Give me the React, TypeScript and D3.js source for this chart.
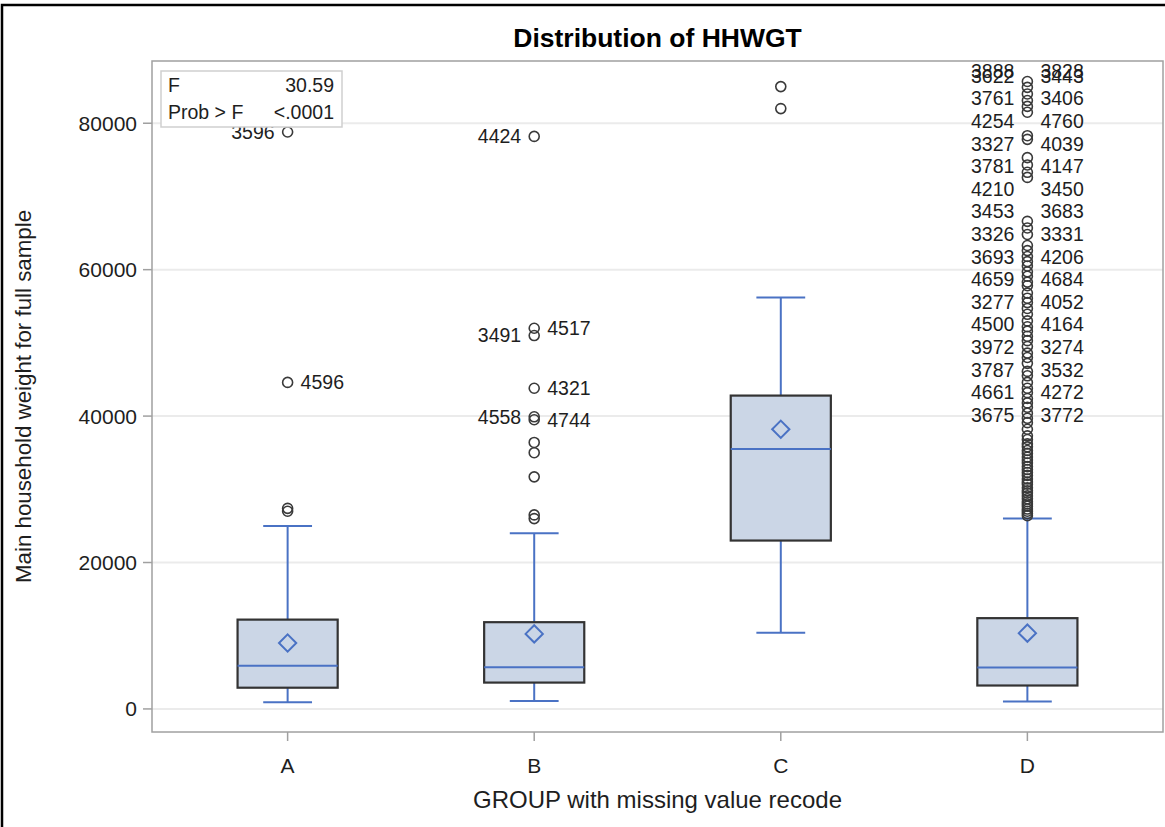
import React from 'react';
import * as d3 from 'd3';

// box statistics per group
const groups = ['A', 'B', 'C', 'D'];
const q1 = [2900, 3600, 23000, 3200];
const medians = [5900, 5700, 35500, 5650];
const q3 = [12200, 11850, 42800, 12400];
const means = [9000, 10250, 38200, 10350];
const whiskerLow = [900, 1100, 10400, 1000];
const whiskerHigh = [25000, 24000, 56200, 26000];

const outliersA = [78800, 44600, 27400, 27000];
const outliersB = [78200, 52000, 51000, 43800, 39900, 39500, 36400, 35000, 31700, 26500, 26000];
const outliersC = [85000, 82000];
const outliersD = [
  85700, 84900, 84000, 83100, 82300, 81500, 78300, 77800, 75300, 74300, 73300, 72600,
  66600, 65700, 64800, 63300, 62600, 61800, 61100, 60500, 59700, 59100, 58300, 57800,
  56800, 56100, 55500, 54700, 53900, 53000, 52200, 51600, 50900, 50300, 49500, 48600,
  48000, 47200, 46100, 45500, 44600, 43800, 43200, 42400, 41800, 41200, 40400, 39700,
  39100, 38200, 37300, 36800, 36200, 35800, 35300, 34900, 34400, 34000, 33600, 33100,
  32700, 32300, 31900, 31400, 31000, 30700, 30200, 29800, 29500, 29100, 28700, 28300,
  28000, 27700, 27300, 27000, 26700, 26400,
];

// labelled outliers (id, value, side)
const labelIdsA = ['3596', '4596'];
const labelValsA = [78800, 44600];
const labelSideA = ['left', 'right'];
const labelIdsB = ['4424', '4517', '3491', '4321', '4558', '4744'];
const labelValsB = [78200, 52000, 51000, 43800, 39900, 39500];
const labelSideB = ['left', 'right', 'left', 'right', 'left', 'right'];

// group D labels are stacked in two columns from the top; the first row
// is drawn over by labels that did not fit (as in the reference)
const dLabelsLeft = ['3622', '3761', '4254', '3327', '3781', '4210', '3453', '3326', '3693', '4659', '3277', '4500', '3972', '3787', '4661', '3675'];
const dLabelsRight = ['3443', '3406', '4760', '4039', '4147', '3450', '3683', '3331', '4206', '4684', '4052', '4164', '3274', '3532', '4272', '3772'];
const dLabelsHiddenLeft = ['3888'];
const dLabelsHiddenRight = ['3828'];

const yTicks = [0, 20000, 40000, 60000, 80000];

const W = 1165;
const H = 827;
const left = 152;
const right = 1163;
const top = 61;
const bottom = 732;

const font = '"Liberation Sans", Arial, sans-serif';
const boxFill = '#cbd6e6';
const blue = '#4a72c4';
const ink = '#1e1e1e';

export default function App() {
  const x = d3.scalePoint<string>().domain(groups).range([left, right]).padding(0.55);
  const y = d3.scaleLinear().domain([-3150, 88500]).range([bottom, top]);
  const step = x.step();
  const halfBox = step * 0.203;
  const halfCap = step * 0.099;
  const diamond = d3.symbol().type(d3.symbolDiamond2).size(190)();

  const outliers = [outliersA, outliersB, outliersC, outliersD];
  const rowH = 22.6;

  const sideLabel = (g: string, id: string, v: number, side: string, k: string) => (
    <text
      key={k}
      x={side === 'left' ? (x(g) as number) - 13 : (x(g) as number) + 13}
      y={y(v)}
      dy="0.35em"
      textAnchor={side === 'left' ? 'end' : 'start'}
      fontSize={19.5}
      fill={ink}
    >
      {id}
    </text>
  );

  return (
    <svg width={W} height={H} style={{ position: 'absolute', left: 0, top: 0 }} fontFamily={font}>
      <rect width={W} height={H} fill="#fff" />
      <path d={`M2,${H} V5 H${W}`} fill="none" stroke="#000" strokeWidth={2.5} />

      <text x={(left + right) / 2} y={47} textAnchor="middle" fontWeight="bold" fontSize={26.5} fill="#000">
        Distribution of HHWGT
      </text>

      <defs>
        <clipPath id="plot">
          <rect x={left} y={top} width={right - left} height={bottom - top} />
        </clipPath>
      </defs>

      {yTicks.map((t) => (
        <line key={t} x1={left} x2={right} y1={y(t)} y2={y(t)} stroke="#ebebeb" strokeWidth={2} />
      ))}

      <g clipPath="url(#plot)">
        {groups.map((g, i) => {
          const cx = x(g) as number;
          return (
            <g key={g}>
              <line x1={cx} x2={cx} y1={y(whiskerHigh[i])} y2={y(q3[i])} stroke={blue} strokeWidth={2} />
              <line x1={cx} x2={cx} y1={y(q1[i])} y2={y(whiskerLow[i])} stroke={blue} strokeWidth={2} />
              <line x1={cx - halfCap} x2={cx + halfCap} y1={y(whiskerHigh[i])} y2={y(whiskerHigh[i])} stroke={blue} strokeWidth={2} />
              <line x1={cx - halfCap} x2={cx + halfCap} y1={y(whiskerLow[i])} y2={y(whiskerLow[i])} stroke={blue} strokeWidth={2} />
              <rect
                x={cx - halfBox}
                y={y(q3[i])}
                width={halfBox * 2}
                height={y(q1[i]) - y(q3[i])}
                fill={boxFill}
                stroke="#333"
                strokeWidth={2.2}
              />
              <line x1={cx - halfBox} x2={cx + halfBox} y1={y(medians[i])} y2={y(medians[i])} stroke={blue} strokeWidth={2} />
              <path d={diamond as string} transform={`translate(${cx},${y(means[i])})`} fill="none" stroke={blue} strokeWidth={2} />
              {outliers[i].map((v, j) => (
                <circle key={j} cx={cx} cy={y(v)} r={5} fill="none" stroke="#3a3a3a" strokeWidth={1.6} />
              ))}
            </g>
          );
        })}

        {labelIdsA.map((id, i) => sideLabel('A', id, labelValsA[i], labelSideA[i], 'a' + i))}
        {labelIdsB.map((id, i) => sideLabel('B', id, labelValsB[i], labelSideB[i], 'b' + i))}

        {dLabelsHiddenLeft.map((id, i) => (
          <g key={'dh' + i} fontSize={19.5} fill={ink}>
            <text x={(x('D') as number) - 13} y={top + 10} dy="0.35em" textAnchor="end">{id}</text>
            <text x={(x('D') as number) + 13} y={top + 10} dy="0.35em">{dLabelsHiddenRight[i]}</text>
          </g>
        ))}
        {dLabelsLeft.map((id, i) => (
          <g key={'d' + i} fontSize={19.5} fill={ink}>
            <text x={(x('D') as number) - 13} y={top + 15 + i * rowH} dy="0.35em" textAnchor="end">{id}</text>
            <text x={(x('D') as number) + 13} y={top + 15 + i * rowH} dy="0.35em">{dLabelsRight[i]}</text>
          </g>
        ))}
      </g>

      {/* statistics inset */}
      <rect x={161} y={71} width={181} height={56} fill="#fff" stroke="#cfcfcf" strokeWidth={1.5} />
      <g fontSize={19.5} fill={ink}>
        <text x={168} y={92}>F</text>
        <text x={334} y={92} textAnchor="end">30.59</text>
        <text x={168} y={119}>Prob &gt; F</text>
        <text x={334} y={119} textAnchor="end">&lt;.0001</text>
      </g>

      <rect x={left} y={top} width={right - left} height={bottom - top} fill="none" stroke="#a0a0a0" strokeWidth={1.5} />

      {/* y axis */}
      {yTicks.map((t) => (
        <g key={t}>
          <line x1={left - 9} x2={left} y1={y(t)} y2={y(t)} stroke="#a0a0a0" strokeWidth={1.5} />
          <text x={left - 15} y={y(t)} dy="0.36em" textAnchor="end" fontSize={21} fill={ink}>
            {t}
          </text>
        </g>
      ))}
      <text
        transform={`translate(31,${(top + bottom) / 2}) rotate(-90)`}
        textAnchor="middle"
        fontSize={22.3}
        fill={ink}
      >
        Main household weight for full sample
      </text>

      {/* x axis */}
      {groups.map((g) => (
        <g key={g}>
          <line x1={x(g)} x2={x(g)} y1={bottom} y2={bottom + 9} stroke="#a0a0a0" strokeWidth={1.5} />
          <text x={x(g)} y={773} textAnchor="middle" fontSize={21} fill={ink}>
            {g}
          </text>
        </g>
      ))}
      <text x={(left + right) / 2} y={808} textAnchor="middle" fontSize={24} fill={ink}>
        GROUP with missing value recode
      </text>
    </svg>
  );
}
